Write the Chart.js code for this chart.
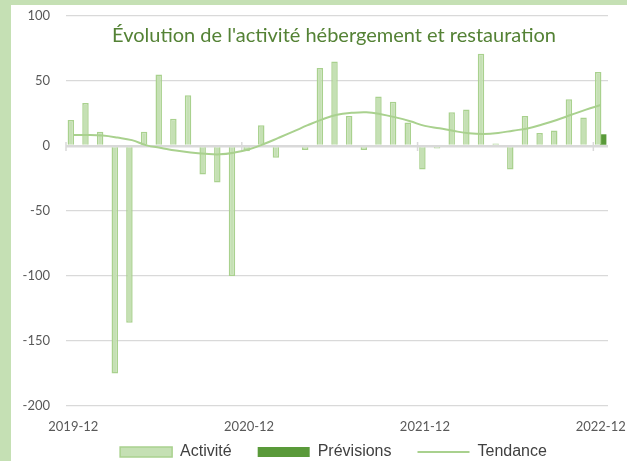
<!DOCTYPE html>
<html>
<head>
<meta charset="utf-8">
<script src="https://cdn.jsdelivr.net/npm/chart.js@4"></script>
<style>
  html, body { margin: 0; padding: 0; background: #c5e0b4; overflow: hidden; width: 627px; height: 461px; }
  #panel { position: absolute; left: 11px; top: 5px; width: 616px; height: 456px; background: #fff; }
  #chart { position: absolute; left: 0; top: 0; }
</style>
</head>
<body>
<div id="panel"></div>
<canvas id="chart" width="627" height="461"></canvas>
<script>
// ── DATA ──────────────────────────────────────────────────────────────────────
const months = [
  '2019-12','2020-01','2020-02','2020-03','2020-04','2020-05','2020-06','2020-07','2020-08','2020-09','2020-10','2020-11',
  '2020-12','2021-01','2021-02','2021-03','2021-04','2021-05','2021-06','2021-07','2021-08','2021-09','2021-10','2021-11',
  '2021-12','2022-01','2022-02','2022-03','2022-04','2022-05','2022-06','2022-07','2022-08','2022-09','2022-10','2022-11',
  '2022-12'
];
const activite = [
  20, 33, 11, -175, -136, 11, 55, 21, 39, -22, -28, -100,
  -4, 16, -9, 1, -3, 60, 65, 23, -3, 38, 34, 18,
  -18, -2, 26, 28, 71, 2, -18, 23, 10, 12, 36, 22,
  57
];
const previsions = [
  null, null, null, null, null, null, null, null, null, null, null, null,
  null, null, null, null, null, null, null, null, null, null, null, null,
  null, null, null, null, null, null, null, null, null, null, null, null,
  9
];
const tendance = [
  8.5, 8.5, 8, 6.5, 4.5, 0.5, -1.5, -3.5, -5, -6, -6.4, -5,
  -2.5, 1.5, 6.2, 11, 16, 20.5, 24, 25.5, 26, 24.5, 22, 19,
  15.5, 13.6, 11.5, 9.8, 9.2, 10, 11.8, 13.5, 16.5, 20, 24, 28,
  31.5
];
const yTicks = [-200, -150, -100, -50, 0, 50, 100];
const titleText = "Évolution de l'activité hébergement et restauration";

// ── PLUGINS ───────────────────────────────────────────────────────────────────
const overlayTitle = {
  id: 'overlayTitle',
  afterDraw(chart) {
    const { ctx, chartArea } = chart;
    ctx.save();
    ctx.font = '20px Lato';
    ctx.fillStyle = '#548235';
    ctx.textAlign = 'center';
    ctx.textBaseline = 'middle';
    ctx.fillText(titleText, (chartArea.left + chartArea.right) / 2 - 3, chartArea.top + 20);
    ctx.restore();
  }
};

// small crossing ticks on the zero line, every 12 months
const zeroTicks = {
  id: 'zeroTicks',
  beforeDatasetsDraw(chart) {
    const { ctx, scales: { x, y } } = chart;
    const y0 = y.getPixelForValue(0);
    const half = (x.getPixelForValue(1) - x.getPixelForValue(0)) / 2;
    ctx.save();
    ctx.strokeStyle = '#d9d9d9';
    ctx.lineWidth = 1.5;
    months.forEach((m, i) => {
      if (i % 12 !== 0) return;
      const px = x.getPixelForValue(i) - half;
      ctx.beginPath();
      ctx.moveTo(px, y0 - 4);
      ctx.lineTo(px, y0 + 5);
      ctx.stroke();
    });
    ctx.restore();
  }
};

// legend takes little room in the layout, then gets a box big enough to draw in
const legendShift = {
  id: 'legendShift',
  afterLayout(chart) {
    const lg = chart.legend;
    lg.left += 24; lg.right += 24;
    lg.top -= 18;  lg.bottom += 9;
  }
};

// ── CHART ─────────────────────────────────────────────────────────────────────
new Chart(document.getElementById('chart'), {
  type: 'bar',
  data: {
    labels: months,
    datasets: [
      {
        label: 'Activité',
        data: activite,
        backgroundColor: '#c5e0b4',
        borderColor: '#a9d18e',
        borderWidth: 1.5,
        pointStyle: 'rect',
        order: 1
      },
      {
        label: 'Prévisions',
        data: previsions,
        backgroundColor: '#5a9a3a',
        borderColor: '#5a9a3a',
        borderWidth: 0,
        pointStyle: 'rect',
        order: 1
      },
      {
        type: 'line',
        label: 'Tendance',
        data: tendance,
        borderColor: '#a9d18e',
        backgroundColor: '#a9d18e',
        borderWidth: 2,
        pointRadius: 0,
        pointStyle: 'line',
        tension: 0.4,
        order: 0
      }
    ]
  },
  options: {
    responsive: false,
    animation: false,
    devicePixelRatio: 1,
    categoryPercentage: 0.68,
    barPercentage: 1.3,
    layout: { padding: { left: 11, right: 19, top: 16, bottom: 0 } },
    plugins: {
      legend: {
        position: 'bottom',
        maxHeight: 25,
        labels: {
          usePointStyle: true,
          pointStyleWidth: 52,
          boxHeight: 10,
          padding: 26,
          color: '#404040',
          font: { family: 'Liberation Sans', size: 16 },
          sort: (a, b) => a.datasetIndex - b.datasetIndex
        }
      },
      title: { display: false },
      tooltip: { enabled: false }
    },
    scales: {
      x: {
        grid: { display: false, drawTicks: false },
        border: { display: false },
        afterFit: (s) => { s.height = 30; s.paddingLeft = 0; s.paddingRight = 0; },
        ticks: {
          autoSkip: false,
          maxRotation: 0,
          padding: 13,
          color: '#595959',
          font: { family: 'Lato', size: 13 },
          callback: (v, i) => (i % 12 === 0 ? months[i] : '')
        }
      },
      y: {
        min: -200,
        max: 100,
        afterFit: (s) => { s.width = 55; s.paddingTop = 0; s.paddingBottom = 0; },
        afterBuildTicks: (s) => { s.ticks = yTicks.map(v => ({ value: v })); },
        grid: {
          drawTicks: false,
          color: '#d9d9d9',
          lineWidth: (c) => (c.tick && c.tick.value === 0 ? 2.5 : 1.2)
        },
        border: { display: false },
        ticks: {
          padding: 16,
          color: '#595959',
          font: { family: 'Lato', size: 13 }
        }
      }
    }
  },
  plugins: [zeroTicks, overlayTitle, legendShift]
});
</script>
</body>
</html>
